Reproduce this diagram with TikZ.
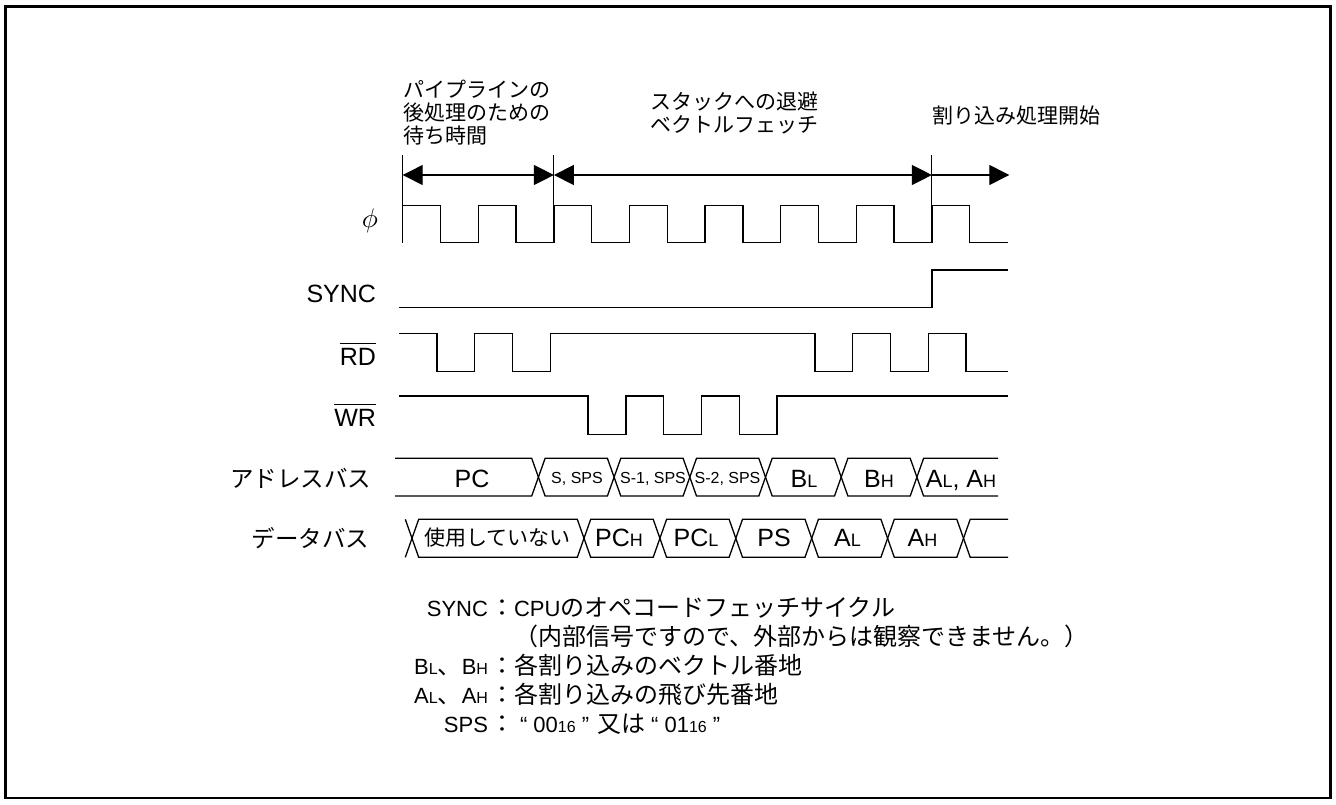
\documentclass[tikz,border=0pt]{standalone}
\usepackage{fontspec}
\setmainfont{Liberation Sans}
\newfontfamily\jpfont{Noto Sans CJK JP}
\usetikzlibrary{arrows.meta}
\newcommand\setfs[1]{\fontsize{#1}{#1}\selectfont}
\newcommand\jpl[1]{{\jpfont\setfs{24}#1}}
\newcommand\bsub[1]{{\setfs{18}#1}}
\newcommand\lsub[1]{{\setfs{16}#1}}
\begin{document}
\begin{tikzpicture}[x=1pt,y=-1pt,
  wave/.style={line width=1.3pt, line join=miter},
  txt/.style={inner sep=0pt, outer sep=0pt},
  toplbl/.style={txt, anchor=base west, font=\setfs{21}\jpfont},
  siglbl/.style={txt, anchor=base east, font=\setfs{25}},
  sigjp/.style={txt, anchor=base east, font=\setfs{23.5}\jpfont},
  buslbl/.style={txt, anchor=base, font=\setfs{25}},
  bussmall/.style={txt, anchor=base, font=\setfs{16}},
  leglbl/.style={txt, anchor=base east, font=\setfs{22}},
  legtxt/.style={txt, anchor=base west, font=\setfs{22}},
  dimarrow/.style={line width=1.3pt},
  tip/.tip={Triangle[length=20pt,width=20pt]}
]
\useasboundingbox (0,0) rectangle (1336,804);
\fill[white] (0,0) rectangle (1336,804);
\draw[line width=2.6pt] (5.3,6.7) rectangle (1330.7,797.8);

% top labels
\node[toplbl] (t1a) at (403,97) {パイプラインの};
\node[toplbl] (t1b) at (403,120) {後処理のための};
\node[toplbl] (t1c) at (403,143) {待ち時間};
\node[toplbl] (t2a) at (650,109) {スタックへの退避};
\node[toplbl] (t2b) at (650,132) {ベクトルフェッチ};
\node[toplbl] (t3) at (932,123) {割り込み処理開始};

% tick lines and arrows
\coordinate (k1t) at (402.7,155); \coordinate (k1b) at (402.7,205.3);
\coordinate (k2t) at (553.9,155); \coordinate (k2b) at (553.9,205.3);
\coordinate (k3t) at (931.9,155); \coordinate (k3b) at (931.9,205.3);
\draw[line width=1pt] (k1t) -- (k1b);
\draw[line width=1pt] (k2t) -- (k2b);
\draw[line width=1pt] (k3t) -- (k3b);
\coordinate (a1) at (402.7,175);
\coordinate (a2) at (553.9,175);
\coordinate (a3) at (931.9,175);
\coordinate (a4) at (1009.3,175);
\draw[dimarrow, tip-tip] (a1) -- (a2);
\draw[dimarrow, tip-tip] (a2) -- (a3);
\draw[dimarrow, -tip] (a3) -- (a4);

% signal labels
\node[txt, anchor=base east] (lphi) at (378,227) {\scalebox{2.7}{$\phi$}};
\node[siglbl] (lsync) at (376,302) {SYNC};
\node[siglbl] (lrd) at (376,365) {RD};
\draw[line width=1.3pt] ([yshift=4pt]lrd.north west) -- ([yshift=4pt]lrd.north east);
\node[siglbl] (lwr) at (376,426) {WR};
\draw[line width=1.3pt] ([yshift=4pt]lwr.north west) -- ([yshift=4pt]lwr.north east);
\node[sigjp] (laddr) at (371,487) {アドレスバス};
\node[sigjp] (ldata) at (369,547) {データバス};

% clock
\draw[wave] (402.7,242.7) -- (402.7,205.3) -- (440.5,205.3) -- (440.5,242.7) -- (478.3,242.7) -- (478.3,205.3)
 -- (516.1,205.3) -- (516.1,242.7) -- (553.9,242.7) -- (553.9,205.3) -- (591.7,205.3) -- (591.7,242.7)
 -- (629.5,242.7) -- (629.5,205.3) -- (667.3,205.3) -- (667.3,242.7) -- (705.1,242.7) -- (705.1,205.3)
 -- (742.9,205.3) -- (742.9,242.7) -- (780.7,242.7) -- (780.7,205.3) -- (818.5,205.3) -- (818.5,242.7)
 -- (856.3,242.7) -- (856.3,205.3) -- (894.1,205.3) -- (894.1,242.7) -- (931.9,242.7) -- (931.9,205.3)
 -- (969.7,205.3) -- (969.7,242.7) -- (1008,242.7);

% SYNC
\draw[wave] (399,307.3) -- (931.9,307.3) -- (931.9,270) -- (1008,270);

% RD
\draw[wave] (399,333.3) -- (436.9,333.3) -- (436.9,371.7) -- (474.7,371.7) -- (474.7,333.3) -- (512.5,333.3)
 -- (512.5,371.7) -- (550.3,371.7) -- (550.3,333.3) -- (814.9,333.3) -- (814.9,371.7) -- (852.7,371.7)
 -- (852.7,333.3) -- (890.5,333.3) -- (890.5,371.7) -- (928.3,371.7) -- (928.3,333.3) -- (966.1,333.3)
 -- (966.1,371.7) -- (1008,371.7);

% WR
\draw[wave] (399,396) -- (588.1,396) -- (588.1,434.4) -- (625.9,434.4) -- (625.9,396) -- (663.7,396)
 -- (663.7,434.4) -- (701.5,434.4) -- (701.5,396) -- (739.3,396) -- (739.3,434.4) -- (777.1,434.4)
 -- (777.1,396) -- (1008,396);

% address bus
\draw[wave] (395,458.3) -- (531.7,458.3) -- (538.4,477.15) -- (531.7,496) -- (395,496);
\foreach \a/\b in {538.4/614.1,614.1/689.8,689.8/765.5,765.5/841.2,841.2/916.9}{
  \draw[wave] (\a,477.15) -- ({\a+6.7},458.3) -- ({\b-6.7},458.3) -- (\b,477.15) -- ({\b-6.7},496) -- ({\a+6.7},496) -- cycle;
}
\draw[wave] (998,458.3) -- (923.6,458.3) -- (916.9,477.15) -- (923.6,496) -- (998,496);

\node[buslbl] (apc) at (472,487) {PC};
\node[bussmall] (as0) at (577,483.3) {S, SPS};
\node[bussmall] (as1) at (653,483.3) {S-1, SPS};
\node[bussmall] (as2) at (727.5,483.3) {S-2, SPS};
\node[buslbl] (abl) at (804,487) {B\bsub{L}};
\node[buslbl] (abh) at (879,487) {B\bsub{H}};
\node[buslbl] (aal) at (961,487) {A\bsub{L}, A\bsub{H}};

% data bus
\draw[wave] (405.3,519.3) -- (412,538.3) -- (405.3,557.3);
\foreach \a/\b in {412/584,584/659.9,659.9/735.8,735.8/811.7,811.7/887.6,887.6/963.5}{
  \draw[wave] (\a,538.3) -- ({\a+6.7},519.3) -- ({\b-6.7},519.3) -- (\b,538.3) -- ({\b-6.7},557.3) -- ({\a+6.7},557.3) -- cycle;
}
\draw[wave] (1008,519.3) -- (970.2,519.3) -- (963.5,538.3) -- (970.2,557.3) -- (1008,557.3);

\node[txt, anchor=base, font=\setfs{21}\jpfont] (dnu) at (497.5,545.5) {使用していない};
\node[buslbl] (dpch) at (619,546.7) {PC\bsub{H}};
\node[buslbl] (dpcl) at (696,546.7) {PC\bsub{L}};
\node[buslbl] (dps) at (774,546.7) {PS};
\node[buslbl] (dal) at (847.5,546.7) {A\bsub{L}};
\node[buslbl] (dah) at (922.5,546.7) {A\bsub{H}};

% legend
\node[leglbl] (g1a) at (488,616) {SYNC};
\node[legtxt] (g1b) at (490,616) {\jpl{：}CPU\jpl{のオペコードフェッチサイクル}};
\node[legtxt] (g2) at (514,645) {\jpl{（内部信号ですので、外部からは観察できません。）}};
\node[leglbl] (g3a) at (488,674) {B\lsub{L}\jpl{、}B\lsub{H}};
\node[legtxt] (g3b) at (490,674) {\jpl{：各割り込みのベクトル番地}};
\node[leglbl] (g4a) at (488,703) {A\lsub{L}\jpl{、}A\lsub{H}};
\node[legtxt] (g4b) at (490,703) {\jpl{：各割り込みの飛び先番地}};
\node[leglbl] (g5a) at (488,732) {SPS};
\node[legtxt] (g5b) at (490,732) {\jpl{：}\hspace{6pt}“ 00\lsub{16} ”\hspace{8pt}\jpl{又は}\hspace{6pt}“ 01\lsub{16} ”};
\end{tikzpicture}
\end{document}
